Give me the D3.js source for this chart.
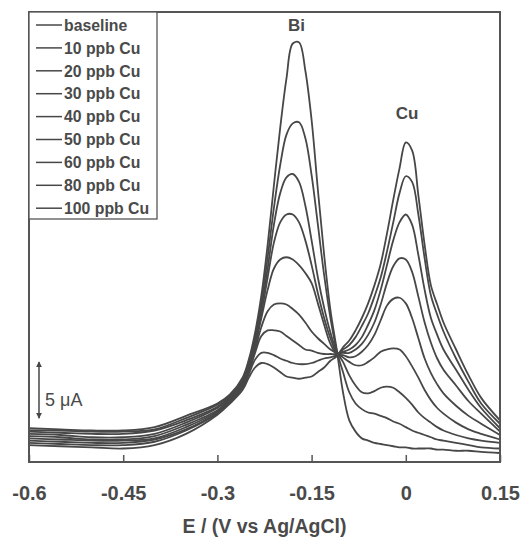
<!DOCTYPE html>
<html>
<head>
<meta charset="utf-8">
<script src="https://cdn.jsdelivr.net/npm/d3@7"></script>
<style>
  body { margin: 0; background: #fff; }
  text { font-family: "Liberation Sans", Arial, sans-serif; font-weight: bold; fill: #4a4a4a; }
</style>
</head>
<body>
<div id="chart"></div>
<script>
// potential grid (V vs Ag/AgCl)
var potentials = [-0.6, -0.55, -0.5, -0.45, -0.4, -0.35, -0.3, -0.28, -0.26, -0.25, -0.24, -0.23, -0.22, -0.21, -0.2,
  -0.19, -0.18, -0.17, -0.16, -0.15, -0.14, -0.13, -0.12, -0.11, -0.1, -0.09, -0.08, -0.07, -0.06, -0.05,
  -0.04, -0.03, -0.02, -0.01, 0, 0.01, 0.02, 0.03, 0.04, 0.05, 0.06, 0.08, 0.1, 0.12, 0.15];

// current (uA, arbitrary offset) for each run
var baseline = [3.0, 2.9, 2.8, 2.8, 3.1, 4.1, 5.2, 6.0, 7.5, 9.1, 11.5, 14.8, 19.3, 24.6, 29.7, 34.1, 37.2, 37.3, 34.8, 30.4,
  24.2, 18.4, 13.5, 10.0, 6.2, 3.7, 2.7, 2.1, 1.9, 1.7, 1.6, 1.5, 1.4, 1.3, 1.3, 1.2, 1.2, 1.2, 1.2, 1.1, 1.1, 1.0, 1.0, 0.9, 0.8];
var cu10 = [2.8, 2.8, 2.7, 2.7, 2.9, 3.9, 5.1, 5.9, 7.3, 8.9, 11.1, 14.2, 18.2, 22.6, 26.4, 29.1, 30.1, 30.2, 28.8, 25.5,
  21.1, 16.6, 12.8, 9.9, 8.0, 6.2, 5.2, 4.7, 4.4, 4.3, 4.1, 3.9, 3.6, 3.4, 3.1, 2.8, 2.6, 2.4, 2.2, 2.0, 1.9, 1.7, 1.5, 1.3, 1.2];
var cu20 = [2.7, 2.6, 2.5, 2.5, 2.8, 3.7, 4.9, 5.8, 7.2, 8.7, 10.8, 13.7, 17.2, 21.1, 23.9, 25.3, 25.6, 24.9, 22.8, 19.7,
  16.4, 13.7, 11.5, 9.8, 8.9, 7.7, 6.8, 6.2, 6.1, 6.3, 6.6, 6.7, 6.6, 6.2, 5.7, 5.1, 4.4, 3.9, 3.5, 3.1, 2.8, 2.4, 2.1, 1.9, 1.7];
var cu30 = [2.5, 2.4, 2.2, 2.2, 2.5, 3.5, 4.8, 5.7, 7.1, 8.5, 10.6, 13.2, 16.4, 19.5, 21.3, 22.0, 22.0, 21.3, 19.7, 17.5,
  15.0, 12.8, 11.0, 9.7, 9.3, 8.9, 8.6, 8.6, 8.9, 9.3, 9.8, 10.0, 10.1, 10.0, 9.4, 8.5, 7.5, 6.4, 5.5, 4.8, 4.3, 3.5, 2.9, 2.5, 2.0];
var cu40 = [2.3, 2.2, 2.0, 2.0, 2.3, 3.3, 4.6, 5.6, 7.0, 8.4, 10.3, 12.8, 15.3, 17.2, 18.0, 18.2, 18.0, 17.5, 16.8, 15.9,
  14.1, 12.2, 10.5, 9.6, 9.5, 9.3, 9.4, 9.8, 10.4, 11.3, 12.6, 13.9, 14.5, 14.6, 14.1, 12.8, 11.0, 9.2, 7.9, 6.9, 6.1, 5.0, 4.1, 3.4, 2.4];
var cu50 = [2.1, 2.0, 1.9, 1.9, 2.1, 3.1, 4.5, 5.5, 6.8, 8.2, 10.0, 12.0, 13.4, 14.0, 14.1, 14.0, 13.6, 13.1, 12.4, 11.6,
  11.0, 10.5, 10.0, 9.7, 9.7, 9.7, 10.0, 10.5, 11.3, 12.4, 14.0, 15.9, 17.4, 18.1, 18.0, 16.9, 14.7, 12.4, 10.6, 9.2, 8.2, 6.8, 5.4, 4.3, 2.7];
var cu60 = [1.9, 1.8, 1.7, 1.7, 2.0, 2.9, 4.4, 5.4, 6.8, 8.0, 9.7, 11.2, 11.7, 11.7, 11.6, 11.2, 10.8, 10.4, 10.0, 9.9,
  9.7, 9.6, 9.6, 9.6, 9.8, 10.0, 10.4, 11.1, 12.2, 13.5, 15.3, 17.5, 19.7, 21.3, 22.0, 21.1, 18.4, 15.3, 12.8, 11.3, 10.0, 8.2, 6.4, 4.8, 3.0];
var cu80 = [1.7, 1.6, 1.5, 1.5, 1.8, 2.8, 4.3, 5.3, 6.6, 7.8, 9.1, 9.7, 9.7, 9.5, 9.2, 9.0, 8.8, 8.7, 8.7, 8.8,
  9.0, 9.2, 9.3, 9.5, 10.0, 10.4, 11.1, 12.1, 13.2, 14.7, 16.4, 18.7, 21.3, 23.9, 25.4, 24.9, 22.0, 18.1, 14.8, 13.1, 11.6, 9.2, 7.1, 5.2, 3.4];
var cu100 = [1.5, 1.4, 1.3, 1.2, 1.5, 2.5, 4.2, 5.2, 6.4, 7.5, 8.4, 8.8, 8.7, 8.4, 8.0, 7.6, 7.5, 7.4, 7.5, 7.6,
  8.0, 8.4, 9.0, 9.4, 10.2, 10.8, 11.7, 12.8, 14.1, 15.7, 17.6, 20.3, 23.3, 26.1, 28.4, 27.7, 23.7, 19.3, 15.7, 14.0, 12.4, 10.0, 7.7, 5.7, 3.7];

var seriesNames = ["baseline", "10 ppb Cu", "20 ppb Cu", "30 ppb Cu", "40 ppb Cu", "50 ppb Cu", "60 ppb Cu", "80 ppb Cu", "100 ppb Cu"];
var seriesValues = [baseline, cu10, cu20, cu30, cu40, cu50, cu60, cu80, cu100];
var xTicks = [-0.6, -0.45, -0.3, -0.15, 0, 0.15];

var svgWidth = 521;
var svgHeight = 538;
var margin = { top: 12, right: 21, bottom: 76, left: 29 };
var width = svgWidth - margin.left - margin.right;
var height = svgHeight - margin.top - margin.bottom;
var ink = "#474747";

var svg = d3.select("#chart")
  .append("svg")
  .attr("width", svgWidth)
  .attr("height", svgHeight);

var chartGroup = svg.append("g")
  .attr("transform", `translate(${margin.left}, ${margin.top})`);

var xScale = d3.scaleLinear().domain([-0.6, 0.15]).range([0, width]);
var yScale = d3.scaleLinear().domain([0, 40]).range([height, 0]);

// voltammograms
var line = d3.line()
  .x((d, i) => xScale(potentials[i]))
  .y(d => yScale(d))
  .curve(d3.curveCatmullRom.alpha(0.5));

chartGroup.selectAll(".trace")
  .data(seriesValues)
  .enter()
  .append("path")
  .attr("class", "trace")
  .attr("d", d => line(d))
  .attr("fill", "none")
  .attr("stroke", ink)
  .attr("stroke-width", 1.8);

// frame
chartGroup.append("rect")
  .attr("width", width)
  .attr("height", height)
  .attr("fill", "none")
  .attr("stroke", "#555")
  .attr("stroke-width", 2);

// bottom axis, ticks pointing inward
var bottomAxis = d3.axisBottom(xScale)
  .tickValues(xTicks)
  .tickSizeInner(-7)
  .tickSizeOuter(0)
  .tickPadding(24)
  .tickFormat(d => d.toString());

var xAxis = chartGroup.append("g")
  .attr("transform", `translate(0, ${height})`)
  .call(bottomAxis);
xAxis.select(".domain").remove();
xAxis.selectAll("line").attr("stroke", "#555").attr("stroke-width", 1.5);
xAxis.selectAll("text")
  .attr("fill", "#4a4a4a")
  .style("font-size", "20px")
  .style("font-family", "'Liberation Sans', Arial, sans-serif")
  .style("font-weight", "bold");

chartGroup.append("text")
  .attr("x", width / 2)
  .attr("y", height + 71)
  .attr("text-anchor", "middle")
  .style("font-size", "19.5px")
  .text("E / (V vs Ag/AgCl)");

// peak labels
chartGroup.append("text")
  .attr("x", xScale(-0.174))
  .attr("y", 19)
  .attr("text-anchor", "middle")
  .style("font-size", "17px")
  .text("Bi");

chartGroup.append("text")
  .attr("x", xScale(0.002))
  .attr("y", 107)
  .attr("text-anchor", "middle")
  .style("font-size", "17px")
  .text("Cu");

// 5 uA scale bar
var barBottom = 3.9;
svg.append("defs").append("marker")
  .attr("id", "head")
  .attr("viewBox", "0 0 10 10")
  .attr("refX", 9)
  .attr("refY", 5)
  .attr("markerWidth", 4)
  .attr("markerHeight", 5)
  .attr("orient", "auto-start-reverse")
  .append("path")
  .attr("d", "M0,0 L10,5 L0,10 z")
  .attr("fill", ink);

chartGroup.append("line")
  .attr("x1", 10).attr("x2", 10)
  .attr("y1", yScale(barBottom)).attr("y2", yScale(barBottom + 5))
  .attr("stroke", ink)
  .attr("stroke-width", 1.5)
  .attr("marker-start", "url(#head)")
  .attr("marker-end", "url(#head)");

chartGroup.append("text")
  .attr("x", 16)
  .attr("y", yScale(barBottom + 1.1))
  .style("font-size", "18px")
  .style("font-weight", "normal")
  .text("5 μA");

// legend
var legend = chartGroup.append("g");
legend.append("rect")
  .attr("width", 128)
  .attr("height", 207)
  .attr("fill", "#fff")
  .attr("stroke", "#555")
  .attr("stroke-width", 1.3);

var rows = legend.selectAll(".row")
  .data(seriesNames)
  .enter()
  .append("g")
  .attr("class", "row")
  .attr("transform", (d, i) => `translate(0, ${13 + i * 22.9})`);

rows.append("line")
  .attr("x1", 7).attr("x2", 33)
  .attr("stroke", ink)
  .attr("stroke-width", 1.5);

rows.append("text")
  .attr("x", 35)
  .attr("dy", "0.36em")
  .style("font-size", "15.8px")
  .text(d => d);
</script>
</body>
</html>
